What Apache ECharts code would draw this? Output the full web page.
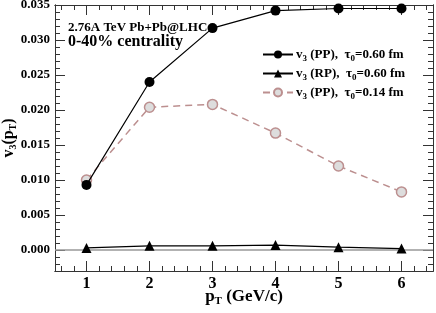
<!DOCTYPE html>
<html>
<head>
<meta charset="utf-8">
<script src="https://cdn.jsdelivr.net/npm/echarts@6/dist/echarts.min.js"></script>
<style>html,body{margin:0;padding:0;background:#fff}#c{width:436px;height:313px}</style>
</head>
<body>
<div id="c"></div>
<script>
// ---- data ----
var pt = [1, 2, 3, 4, 5, 6];
var v3PP060 = [0.0093, 0.0240, 0.0317, 0.0342, 0.0345, 0.0345];
var v3PP060Err = [0, 0, 0, 0.0006, 0.0006, 0.0006];
var v3RP060 = [0.0003, 0.0006, 0.0006, 0.0007, 0.0004, 0.0002];
var v3PP014 = [0.0100, 0.0204, 0.0208, 0.0167, 0.0120, 0.0083];
var xTicks = [1, 2, 3, 4, 5, 6];
var yTicks = [0.000, 0.005, 0.010, 0.015, 0.020, 0.025, 0.030, 0.035];
var xMinor = [];
for (var i = 3; i <= 32; i++) { var v = +(i * 0.2).toFixed(1); if (v > 0.5 && v < 6.5 && Math.abs(v - Math.round(v)) > 1e-6) xMinor.push(v); }
var yMinor = [];
for (var j = -2; j <= 34; j++) { if (j % 5 !== 0) yMinor.push(+(j * 0.001).toFixed(3)); }

var serif = '"Liberation Serif","DejaVu Serif",serif';
var axisCol = '#333';
function xAx(pos, ticks, len, labels) {
  return {
    type: 'value', position: pos, min: 0.5, max: 6.5,
    axisLine: { show: true, onZero: false, lineStyle: { color: axisCol, width: 1 } },
    axisTick: { show: true, inside: true, length: len, customValues: ticks, lineStyle: { color: axisCol, width: 1 } },
    axisLabel: labels ? { show: true, customValues: ticks, fontFamily: serif, fontWeight: 'bold', fontSize: 16, color: '#000', margin: 5 } : { show: false },
    splitLine: { show: false }
  };
}
function yAx(pos, ticks, len, labels) {
  return {
    type: 'value', position: pos, min: -0.003, max: 0.035,
    axisLine: { show: true, onZero: false, lineStyle: { color: axisCol, width: 1 } },
    axisTick: { show: true, inside: true, length: len, customValues: ticks, lineStyle: { color: axisCol, width: 1 } },
    axisLabel: labels ? { show: true, customValues: ticks, fontFamily: serif, fontWeight: 'bold', fontSize: 13, color: '#000', margin: 5,
      formatter: function (v) { return v.toFixed(3); } } : { show: false },
    splitLine: { show: false }
  };
}
var xAxes = [xAx('bottom', xTicks, 10, true), xAx('bottom', xMinor, 5, false), xAx('top', xTicks, 10, false), xAx('top', xMinor, 5, false)];
xAxes[0].name = '{b|p}{s|T}{b| (GeV/c)}';
xAxes[0].nameLocation = 'middle';
xAxes[0].nameGap = 16;
xAxes[0].nameMoveOverlap = false;
xAxes[0].nameTextStyle = { rich: {
  b: { fontFamily: serif, fontWeight: 'bold', fontSize: 17, color: '#000' },
  s: { fontFamily: serif, fontWeight: 'bold', fontSize: 11, color: '#000', padding: [9, 0, 0, 0] } } };
var yAxes = [yAx('left', yTicks, 10, true), yAx('left', yMinor, 5, false), yAx('right', yTicks, 10, false), yAx('right', yMinor, 5, false)];
yAxes[0].name = '{b|v}{s|3}{b|(p}{s|T}{b|)}';
yAxes[0].nameLocation = 'middle';
yAxes[0].nameGap = 37;
yAxes[0].nameRotate = 90;
yAxes[0].nameMoveOverlap = false;
yAxes[0].nameTextStyle = { rich: {
  b: { fontFamily: serif, fontWeight: 'bold', fontSize: 16, color: '#000' },
  s: { fontFamily: serif, fontWeight: 'bold', fontSize: 10, color: '#000', padding: [8, 0, 0, 0] } } };

function pairs(ys) { return pt.map(function (x, k) { return [x, ys[k]]; }); }

var legendNames = {
  pp060: '{b|v}{s|3}{b| (PP),  τ}{s|0}{b|=0.60 fm}',
  rp060: '{b|v}{s|3}{b| (RP),  τ}{s|0}{b|=0.60 fm}',
  pp014: '{b|v}{s|3}{b| (PP),  τ}{s|0}{b|=0.14 fm}'
};

var option = {
  animation: false,
  backgroundColor: '#fff',
  grid: { left: 55, right: 3, top: 5, bottom: 42, outerBoundsMode: 'none', containLabel: false },
  xAxis: xAxes,
  yAxis: yAxes,
  title: [
    { text: '2.76A TeV Pb+Pb@LHC', left: 63, top: 16, textStyle: { fontFamily: serif, fontWeight: 'bold', fontSize: 13, color: '#000' } },
    { text: '0-40% centrality', left: 63, top: 29, textStyle: { fontFamily: serif, fontWeight: 'bold', fontSize: 16, color: '#000' } }
  ],
  legend: {
    orient: 'vertical', left: 257, top: 43, itemWidth: 30, itemHeight: 10, itemGap: 4,
    data: ['pp060', 'rp060', 'pp014'],
    formatter: function (n) { return legendNames[n]; },
    textStyle: { padding: [0, 0, 0, -2], rich: {
      b: { fontFamily: serif, fontWeight: 'bold', fontSize: 13, color: '#000' },
      s: { fontFamily: serif, fontWeight: 'bold', fontSize: 9, color: '#000', padding: [8, 0, 0, 0] } } }
  },
  series: [
    {
      name: 'rp060', type: 'line', data: pairs(v3RP060), symbol: 'triangle', symbolSize: 10,
      itemStyle: { color: '#000' }, lineStyle: { color: '#000', width: 1.2 }, z: 3,
      markLine: { silent: true, symbol: 'none', label: { show: false }, lineStyle: { color: '#999', width: 1.5, type: 'solid' },
        data: [{ yAxis: 0 }], z: 1 }
    },
    {
      name: 'pp014', type: 'line', data: pairs(v3PP014), symbol: 'circle', symbolSize: 10,
      itemStyle: { color: '#ddd', borderColor: '#bc8f8f', borderWidth: 1.5 },
      lineStyle: { color: '#bc8f8f', width: 1.5, type: [7, 5] }, z: 4
    },
    {
      name: 'pp060', type: 'line', data: pairs(v3PP060), symbol: 'circle', symbolSize: 10,
      itemStyle: { color: '#000' }, lineStyle: { color: '#000', width: 1.2 }, z: 5
    },
    {
      name: 'err', type: 'custom', z: 5, silent: true,
      data: pt.map(function (x, k) { return [x, v3PP060[k] - v3PP060Err[k], v3PP060[k] + v3PP060Err[k]]; }),
      renderItem: function (params, api) {
        var lo = api.coord([api.value(0), api.value(1)]);
        var hi = api.coord([api.value(0), api.value(2)]);
        return { type: 'line', shape: { x1: lo[0], y1: lo[1], x2: hi[0], y2: hi[1] }, style: { stroke: '#000', lineWidth: 1 } };
      }
    }
  ]
};
var chart = echarts.init(document.getElementById('c'), null, { renderer: 'canvas' });
chart.setOption(option);
</script>
</body>
</html>
